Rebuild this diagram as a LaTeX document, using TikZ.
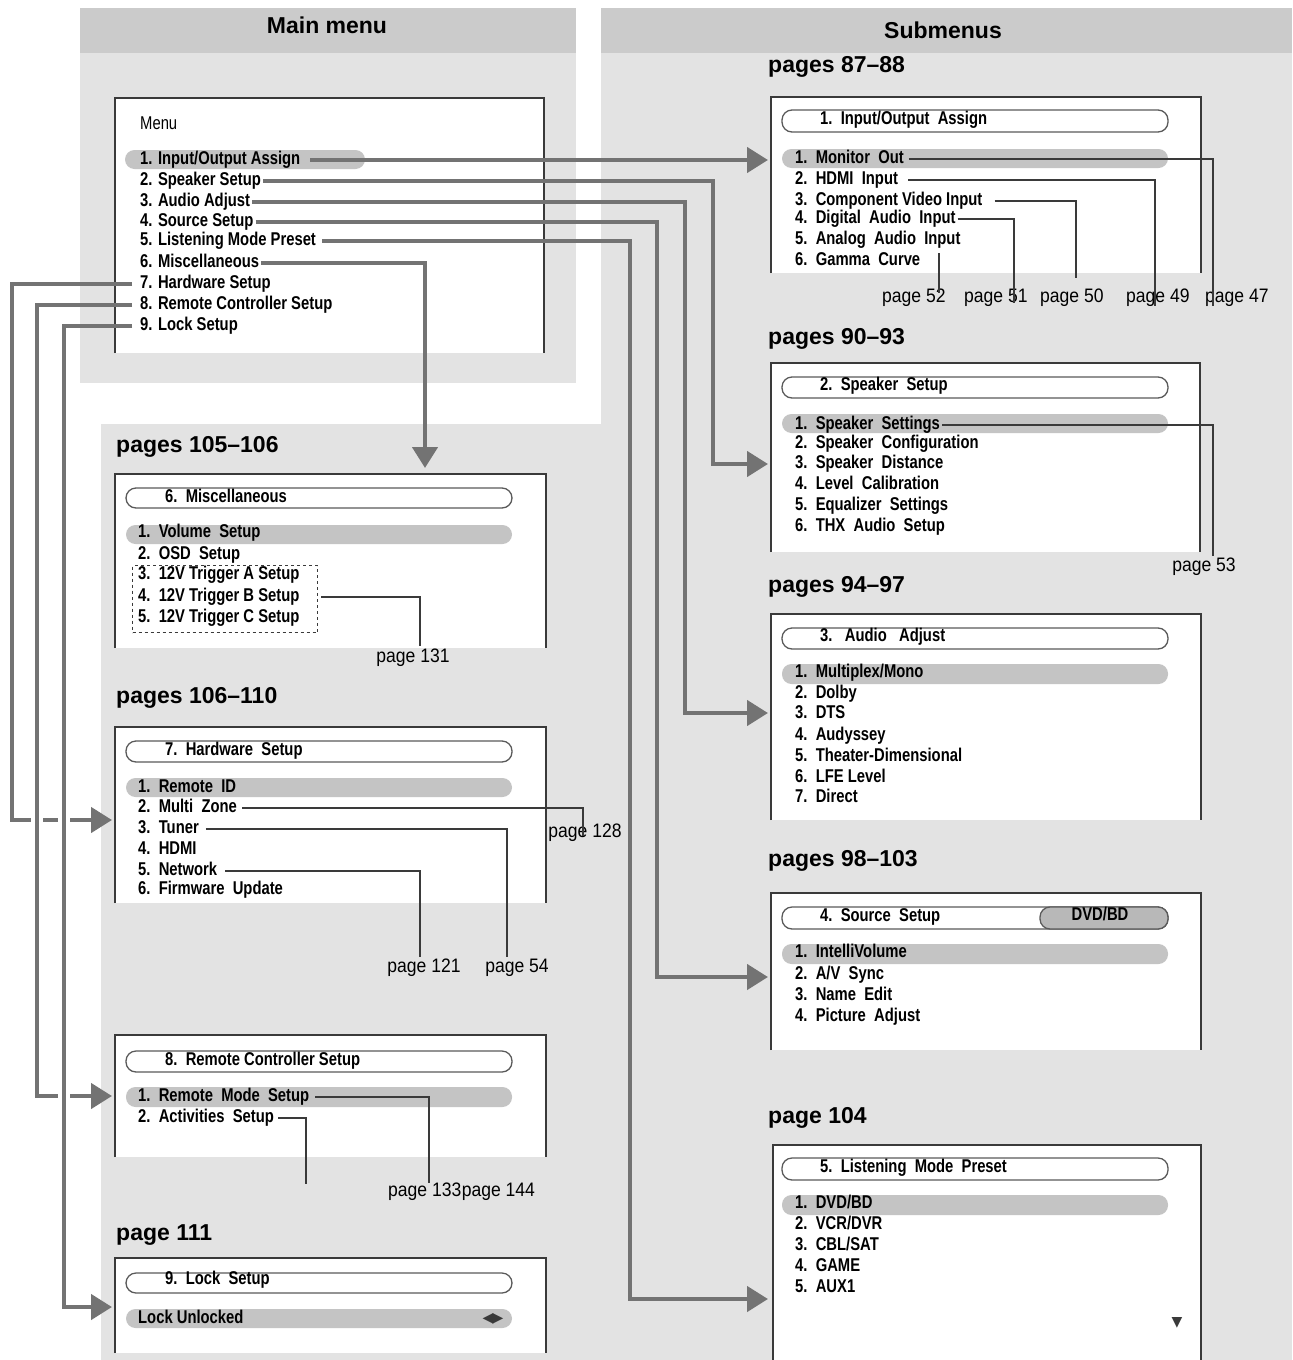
\documentclass[tikz,border=0pt]{standalone}
\usepackage{fontspec}
\setmainfont{Liberation Sans}
\newfontfamily\condfont[FakeStretch=0.8]{Liberation Sans}
\newfontfamily\lblfamily[FakeStretch=0.9]{Liberation Sans}
\newfontfamily\symfont{DejaVu Sans}
\usetikzlibrary{arrows.meta}
\newcommand\itemfont{\condfont\bfseries\fontsize{18.5}{20}\selectfont}
\newcommand\headfont{\bfseries\fontsize{23}{26}\selectfont}
\newcommand\pgfont{\lblfamily\fontsize{19.5}{22}\selectfont}
\definecolor{panelgray}{HTML}{E3E3E3}
\definecolor{bandgray}{HTML}{CBCBCB}
\definecolor{hicol}{HTML}{C4C4C4}
\definecolor{arrcol}{HTML}{737373}
\definecolor{boxcol}{HTML}{3A3A3A}
\definecolor{pillborder}{HTML}{5A5A5A}
\definecolor{leadcol}{HTML}{3A3A3A}
\definecolor{dvdcol}{HTML}{B8B8B8}
\tikzset{
 boxbg/.style={fill=white, draw=none, inner sep=0pt, outer sep=0pt, anchor=north west},
 boxline/.style={draw=boxcol, line width=1.6pt},
 titlepill/.style={draw=pillborder, line width=1.3pt, fill=white, rounded corners=10pt},
 hipill/.style={fill=hicol, rounded corners=9.5pt},
 item/.style={font=\itemfont, anchor=west, inner sep=2pt, text height=13pt, text depth=3.5pt},
 head/.style={font=\headfont, anchor=west, inner sep=0pt},
 pagelbl/.style={font=\pgfont, inner sep=1pt},
 arr/.style={draw=arrcol, line width=4.5pt, -{Triangle[length=21pt,width=25pt]}},
 halo/.style={draw=white, line width=12pt},
 leader/.style={draw=leadcol, line width=1.4pt},
}
\begin{document}
\begin{tikzpicture}[x=1pt,y=-1pt]
\useasboundingbox (0,0) rectangle (1293,1360);
% panels
\fill[panelgray] (80,8) rectangle (576,383);
\fill[bandgray] (80,8) rectangle (576,53);
\fill[panelgray] (601,8) rectangle (1292,1360);
\fill[bandgray] (601,8) rectangle (1292,53);
\fill[panelgray] (101,424) rectangle (601,1360);
\node[font=\headfont] (hmain) at (327,25) {Main menu};
\node[font=\headfont] (hsub) at (943,30) {Submenus};

% ---------- main menu box
\node[boxbg, minimum width=429pt, minimum height=255pt] (M) at (115,98) {};
\draw[boxline] (M.south west) |- (M.north east) -- (M.south east);
\fill[hipill] (125,150) rectangle (365,169);
\node[item, font=\condfont\fontsize{18.5}{20}\selectfont] (mt) at (138,125) {Menu};
\node[item] (m1) at (138,160) {1. Input/Output Assign};
\node[item] (m2) at (138,181) {2. Speaker Setup};
\node[item] (m3) at (138,202) {3. Audio Adjust};
\node[item] (m4) at (138,222) {4. Source Setup};
\node[item] (m5) at (138,241) {5. Listening Mode Preset};
\node[item] (m6) at (138,263) {6. Miscellaneous};
\node[item] (m7) at (138,284) {7. Hardware Setup};
\node[item] (m8) at (138,305) {8. Remote Controller Setup};
\node[item] (m9) at (138,326) {9. Lock Setup};

% ---------- box A
\node[head] (hA) at (768,67) {pages 87–88};
\node[boxbg, minimum width=430pt, minimum height=176pt] (A) at (771,97) {};
\draw[boxline] (A.south west) |- (A.north east) -- (A.south east);
\draw[titlepill] (782,110) rectangle (1168,132);
\node[item] (At) at (818,120) {1.~~Input/Output~~Assign};
\fill[hipill] (782,149) rectangle (1168,168);
\node[item] (a1) at (793,159) {1.~~Monitor~~Out};
\node[item] (a2) at (793,180) {2.~~HDMI~~Input};
\node[item] (a3) at (793,201) {3.~~Component Video Input};
\node[item] (a4) at (793,219) {4.~~Digital~~Audio~~Input};
\node[item] (a5) at (793,240) {5.~~Analog~~Audio~~Input};
\node[item] (a6) at (793,261) {6.~~Gamma~~Curve};
\node[pagelbl, anchor=west] (p52) at (881,298) {page 52};
\node[pagelbl, anchor=west] (p51) at (963,298) {page 51};
\node[pagelbl, anchor=west] (p50) at (1039,298) {page 50};
\node[pagelbl, anchor=west] (p49) at (1125,298) {page 49};
\node[pagelbl, anchor=west] (p47) at (1204,298) {page 47};
\coordinate (l47) at (1213,306);
\coordinate (l49) at (1155,306);
\coordinate (l50) at (1076,278);
\coordinate (l51) at (1014,303);
\coordinate (g52a) at (939,253);
\coordinate (l52) at (939,293);
\draw[leader] ([xshift=3pt]a1.east) -| (l47);
\draw[leader] ([xshift=8pt]a2.east) -| (l49);
\draw[leader] ([xshift=10pt]a3.east) -| (l50);
\draw[leader] (a4.east) -| (l51);
\draw[leader] (g52a) -- (l52);

% ---------- box B
\node[head] (hB) at (768,339) {pages 90–93};
\node[boxbg, minimum width=429pt, minimum height=189pt] (B) at (771,363) {};
\draw[boxline] (B.south west) |- (B.north east) -- (B.south east);
\draw[titlepill] (782,377) rectangle (1168,398);
\node[item] (Bt) at (818,386) {2.~~Speaker~~Setup};
\fill[hipill] (782,414) rectangle (1168,433);
\node[item] (b1) at (793,425) {1.~~Speaker~~Settings};
\node[item] (b2) at (793,444) {2.~~Speaker~~Configuration};
\node[item] (b3) at (793,464) {3.~~Speaker~~Distance};
\node[item] (b4) at (793,485) {4.~~Level~~Calibration};
\node[item] (b5) at (793,506) {5.~~Equalizer~~Settings};
\node[item] (b6) at (793,527) {6.~~THX~~Audio~~Setup};
\node[pagelbl] (p53) at (1204,567) {page 53};
\coordinate (l53) at (1213,556);
\draw[leader] (b1.east) -| (l53);

% ---------- box C
\node[head] (hC) at (768,587) {pages 94–97};
\node[boxbg, minimum width=430pt, minimum height=206pt] (C) at (771,614) {};
\draw[boxline] (C.south west) |- (C.north east) -- (C.south east);
\draw[titlepill] (782,628) rectangle (1168,649);
\node[item] (Ct) at (818,637) {3.~~~Audio~~~Adjust};
\fill[hipill] (782,664) rectangle (1168,684);
\node[item] (c1) at (793,673) {1.~~Multiplex/Mono};
\node[item] (c2) at (793,694) {2.~~Dolby};
\node[item] (c3) at (793,714) {3.~~DTS};
\node[item] (c4) at (793,736) {4.~~Audyssey};
\node[item] (c5) at (793,757) {5.~~Theater-Dimensional};
\node[item] (c6) at (793,778) {6.~~LFE Level};
\node[item] (c7) at (793,798) {7.~~Direct};

% ---------- box D
\node[head] (hD) at (768,861) {pages 98–103};
\node[boxbg, minimum width=430pt, minimum height=157pt] (D) at (771,893) {};
\draw[boxline] (D.south west) |- (D.north east) -- (D.south east);
\draw[titlepill] (782,907) rectangle (1168,929);
\draw[titlepill, fill=dvdcol] (1040,907) rectangle (1168,929);
\node[item] (Dt) at (818,917) {4.~~Source~~Setup};
\node[item, anchor=center] (Dv) at (1100,916) {DVD/BD};
\fill[hipill] (782,944) rectangle (1168,964);
\node[item] (d1) at (793,953) {1.~~IntelliVolume};
\node[item] (d2) at (793,975) {2.~~A/V~~Sync};
\node[item] (d3) at (793,996) {3.~~Name~~Edit};
\node[item] (d4) at (793,1017) {4.~~Picture~~Adjust};

% ---------- box E
\node[head] (hE) at (768,1118) {page 104};
\node[boxbg, minimum width=428pt, minimum height=215pt] (E) at (773,1145) {};
\draw[boxline] (E.south west) |- (E.north east) -- (E.south east);
\draw[titlepill] (782,1158) rectangle (1168,1180);
\node[item] (Et) at (818,1168) {5.~~Listening~~Mode~~Preset};
\fill[hipill] (782,1195) rectangle (1168,1215);
\node[item] (e1) at (793,1204) {1.~~DVD/BD};
\node[item] (e2) at (793,1225) {2.~~VCR/DVR};
\node[item] (e3) at (793,1246) {3.~~CBL/SAT};
\node[item] (e4) at (793,1267) {4.~~GAME};
\node[item] (e5) at (793,1288) {5.~~AUX1};
\node[font=\symfont\fontsize{14}{15}\selectfont, text=boxcol, inner sep=0pt] (down) at (1177,1323) {▼};

% ---------- box F
\node[head] (hF) at (116,447) {pages 105–106};
\node[boxbg, minimum width=431pt, minimum height=174pt] (F) at (115,474) {};
\draw[boxline] (F.south west) |- (F.north east) -- (F.south east);
\draw[titlepill] (126,488) rectangle (512,508);
\node[item] (Ft) at (163,498) {6.~~Miscellaneous};
\fill[hipill] (126,525) rectangle (512,544);
\node[item] (f1) at (136,533) {1.~~Volume~~Setup};
\node[item] (f2) at (136,555) {2.~~OSD~~Setup};
\node[item] (f3) at (136,575) {3.~~12V Trigger A Setup};
\node[item] (f4) at (136,597) {4.~~12V Trigger B Setup};
\node[item] (f5) at (136,618) {5.~~12V Trigger C Setup};
\node[draw=boxcol, dashed, line width=1.2pt, inner sep=0pt, minimum width=185pt, minimum height=67pt, anchor=north west] (trig) at (132,565) {};
\node[pagelbl] (p131) at (413,658) {page 131};
\coordinate (l131) at (420,646);
\draw[leader] ([xshift=3pt]trig.east |- f4) -| (l131);

% ---------- box G
\node[head] (hG) at (116,698) {pages 106–110};
\node[boxbg, minimum width=431pt, minimum height=176pt] (G) at (115,727) {};
\draw[boxline] (G.south west) |- (G.north east) -- (G.south east);
\draw[titlepill] (126,741) rectangle (512,762);
\node[item] (Gt) at (163,751) {7.~~Hardware~~Setup};
\fill[hipill] (126,778) rectangle (512,797);
\node[item] (g1) at (136,788) {1.~~Remote~~ID};
\node[item] (g2) at (136,808) {2.~~Multi~~Zone};
\node[item] (g3) at (136,829) {3.~~Tuner};
\node[item] (g4) at (136,850) {4.~~HDMI};
\node[item] (g5) at (136,871) {5.~~Network};
\node[item] (g6) at (136,890) {6.~~Firmware~~Update};
\node[pagelbl] (p128) at (585,833) {page 128};
\node[pagelbl] (p54) at (517,968) {page 54};
\node[pagelbl] (p121) at (424,968) {page 121};
\coordinate (l128) at (583,836);
\coordinate (l54) at (507,957);
\coordinate (l121) at (420,957);
\draw[leader] ([xshift=3pt]g2.east) -| (l128);
\draw[leader] ([xshift=5pt]g3.east) -| (l54);
\draw[leader] ([xshift=6pt]g5.east) -| (l121);

% ---------- box H
\node[boxbg, minimum width=431pt, minimum height=122pt] (H) at (115,1035) {};
\draw[boxline] (H.south west) |- (H.north east) -- (H.south east);
\draw[titlepill] (126,1051) rectangle (512,1072);
\node[item] (Ht) at (163,1061) {8.~~Remote Controller Setup};
\fill[hipill] (126,1087) rectangle (512,1107);
\node[item] (h1) at (136,1097) {1.~~Remote~~Mode~~Setup};
\node[item] (h2) at (136,1118) {2.~~Activities~~Setup};
\node[pagelbl, anchor=west, inner sep=0pt] (p133) at (388,1192) {page 133};
\node[pagelbl, anchor=west, inner sep=0pt] (p144) at (p133.east) {page 144};
\coordinate (l133) at (429,1183);
\coordinate (l144) at (306,1184);
\draw[leader] ([xshift=4pt]h1.east) -| (l133);
\draw[leader] ([xshift=2pt]h2.east) -| (l144);

% ---------- box I
\node[head] (hI) at (116,1235) {page 111};
\node[boxbg, minimum width=431pt, minimum height=95pt] (I) at (115,1258) {};
\draw[boxline] (I.south west) |- (I.north east) -- (I.south east);
\draw[titlepill] (126,1273) rectangle (512,1293);
\node[item] (It) at (163,1280) {9.~~Lock~~Setup};
\fill[hipill] (126,1309) rectangle (512,1328);
\node[item] (i1) at (136,1319) {Lock Unlocked};
\node[font=\symfont\fontsize{14}{15}\selectfont, text=boxcol, inner sep=0pt] (lr) at (493,1319) {◀\kern-1pt▶};

% ---------- main connectors
\coordinate (k2) at (713,464);
\coordinate (k3) at (685,713);
\coordinate (k4) at (657,977);
\coordinate (k5) at (630,1299);
\coordinate (k6) at (425,0);
\coordinate (k7) at (12,820);
\coordinate (k8) at (37,1096);
\coordinate (k9) at (64,1307);
\draw[arr, shorten >=3pt] ([xshift=8pt]m1.east) -- (m1.east -| A.west);
\draw[arr, shorten >=3pt] (m2.east) -| (k2) -- (k2 -| B.west);
\draw[arr, shorten >=3pt] (m3.east) -| (k3) -- (k3 -| C.west);
\draw[arr, shorten >=3pt] (m4.east) -| (k4) -- (k4 -| D.west);
\draw[arr, shorten >=5pt] ([xshift=4pt]m5.east) -| (k5) -- (k5 -| E.west);
\draw[arr, shorten >=6pt] (m6.east) -| (k6 |- F.north);
\draw[arr, shorten >=3pt] ([xshift=-6pt]m7.west) -| (k7) -- (k7 -| G.west);
\coordinate (v8) at (m8.west -| k8);
\draw[halo] ([yshift=-10pt]v8) -- ([yshift=10pt]k8);
\draw[arr, shorten >=3pt] ([xshift=-6pt]m8.west) -| (k8) -- (k8 -| H.west);
\coordinate (v9) at (m9.west -| k9);
\draw[halo] ([yshift=-10pt]v9) -- ([yshift=10pt]k9);
\draw[arr, shorten >=3pt] ([xshift=-6pt]m9.west) -| (k9) -- (k9 -| I.west);
\end{tikzpicture}
\end{document}
